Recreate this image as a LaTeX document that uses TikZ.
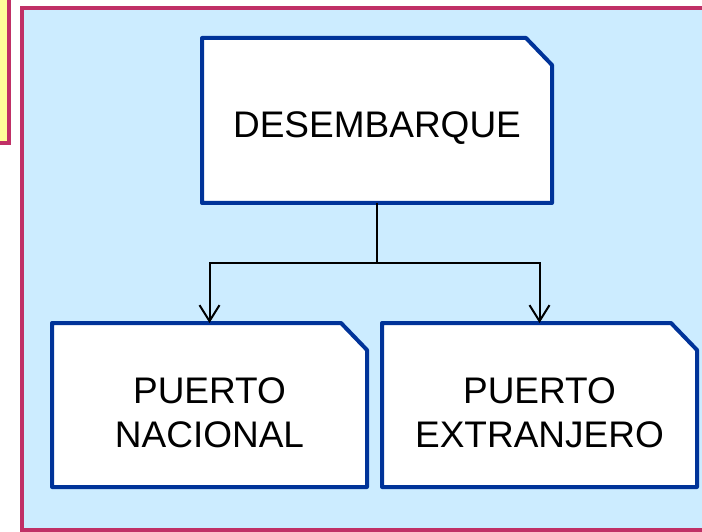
\documentclass[tikz,border=0pt]{standalone}
\usepackage{fontspec}
\setmainfont{Liberation Sans}
\usepackage{tikz}
\usetikzlibrary{shapes,positioning,arrows.meta}
\definecolor{frameRed}{RGB}{192,48,102}
\definecolor{paleBlue}{RGB}{204,236,255}
\definecolor{paleYellow}{RGB}{255,255,153}
\definecolor{boxBlue}{RGB}{0,51,153}
\pgfdeclarelayer{back}
\pgfsetlayers{back,main}

\begin{document}
\begin{tikzpicture}[x=1pt,y=-1pt,
    block/.style={rectangle, inner sep=0pt, outer sep=0pt},
    blockline/.style={draw=boxBlue, fill=white, line width=4pt, line join=round},
    blocktext/.style={yshift=-8pt, align=center, inner sep=0pt,
        font=\fontsize{37}{44}\selectfont},
    frame/.style={draw=frameRed, line width=4pt},
    >={Straight Barb[length=16pt,width=20pt]}]

\useasboundingbox (0,0) rectangle (702,532);
\clip (0,0) rectangle (702,532);

\begin{pgfonlayer}{back}
\draw[frame, fill=paleYellow] (-20,-20) rectangle (9,143);
\draw[frame, fill=paleBlue] (22,8) rectangle (730,530);
\end{pgfonlayer}

\node[block,
    minimum width=350pt,
    minimum height=165pt,
    label={[blocktext]center:DESEMBARQUE}
] (block1) at (377,120.5) {};

\node[block,
    minimum width=315pt,
    minimum height=164pt,
    label={[blocktext]center:PUERTO\\NACIONAL}
] (block2) at (209.5,405) {};

\node[block,
    minimum width=315pt,
    minimum height=164pt,
    label={[blocktext]center:PUERTO\\EXTRANJERO}
] (block3) at (539.5,405) {};

% boxes with the cut corner, behind the texts
\begin{pgfonlayer}{back}
\foreach \b in {block1,block2,block3}
    \draw[blockline] (\b.north west) -- ([xshift=-26pt]\b.north east)
        -- ([yshift=-27pt]\b.north east) -- (\b.south east)
        -- (\b.south west) -- cycle;
\end{pgfonlayer}

\coordinate (split) at (377,263);

\draw[line width=2pt] (block1) -- (split);
\draw[->, line width=2pt] (split) -| (block2);
\draw[->, line width=2pt] (split) -| (block3);

\end{tikzpicture}
\end{document}
